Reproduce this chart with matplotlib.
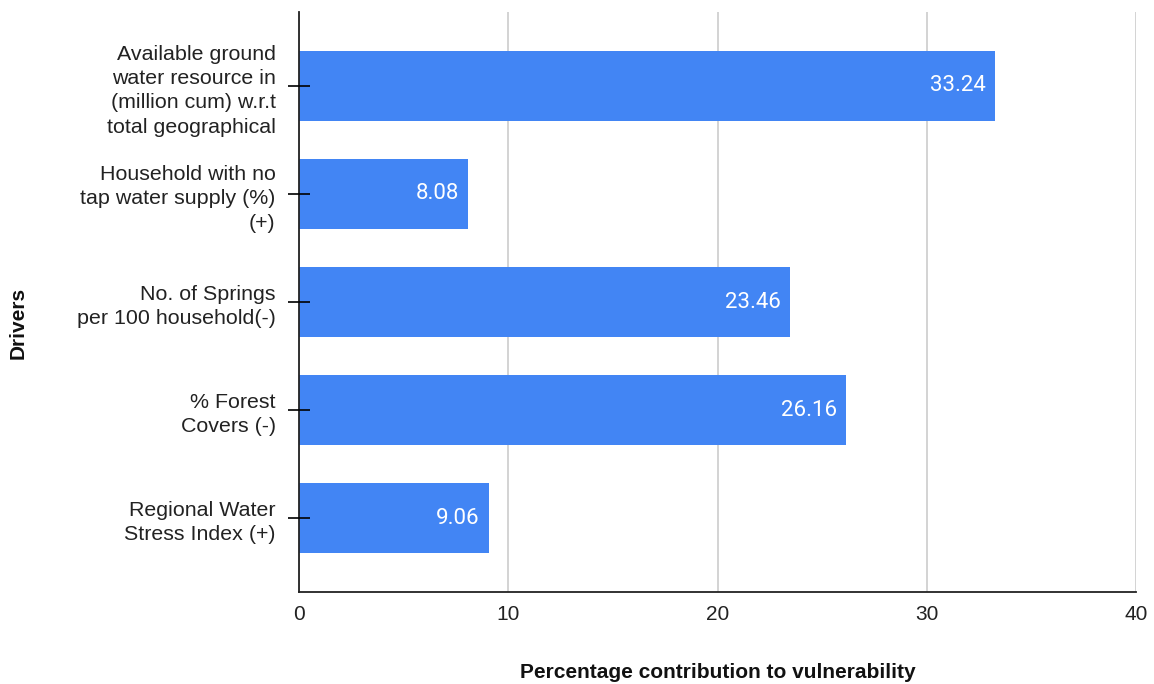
import matplotlib
matplotlib.use("Agg")
import matplotlib.pyplot as plt

categories = [
    "Available ground\nwater resource in\n(million cum) w.r.t\ntotal geographical",
    "Household with no\ntap water supply (%)\n(+)",
    "No. of Springs\nper 100 household(-)",
    "% Forest\nCovers (-)",
    "Regional Water\nStress Index (+)",
]
values = [33.24, 8.08, 23.46, 26.16, 9.06]
value_labels = ["33.24", "8.08", "23.46", "26.16", "9.06"]
xticks = [0, 10, 20, 30, 40]

W, H = 1154, 684
fig = plt.figure(figsize=(W / 100, H / 100), dpi=100)
ax = fig.add_axes([299 / W, 1 - 592 / H, (1136 - 299) / W, (592 - 12) / H])

ypos = list(range(len(categories)))
ax.barh(ypos, values, height=0.648, color="#4285F4", zorder=3)

ax.set_xlim(0, 40)
ax.set_ylim(4.685, -0.685)
ax.set_xticks(xticks)
ax.set_xticklabels([str(t) for t in xticks], fontsize=15, color="#222222",
                   family=["Liberation Sans", "DejaVu Sans"])
ax.set_yticks(ypos)
ax.set_yticklabels(categories, fontsize=15.4, color="#222222",
                   family=["Liberation Sans", "DejaVu Sans"], linespacing=1.36)

ax.tick_params(axis="y", direction="inout", length=15.5, width=1.2, color="black", pad=9)
ax.tick_params(axis="x", length=0, pad=9)

ax.grid(axis="x", color="#cccccc", linewidth=1.2)
ax.grid(axis="y", visible=False)
ax.xaxis.set_zorder(0.5)
ax.yaxis.set_zorder(5)
for s in ["top", "right"]:
    ax.spines[s].set_visible(False)
for s in ["left", "bottom"]:
    ax.spines[s].set_color("#222222")
    ax.spines[s].set_linewidth(1.3)
    ax.spines[s].set_zorder(4)

for y, v, lab in zip(ypos, values, value_labels):
    ax.annotate(lab, xy=(v, y), xytext=(-6.5, 0), textcoords="offset points",
                ha="right", va="center", color="white", fontsize=16,
                family=["Roboto", "DejaVu Sans"], zorder=6)

fig.text(717.5 / W, 1 - 672 / H, "Percentage contribution to vulnerability",
         ha="center", va="center", fontsize=15, fontweight="bold",
         family=["Liberation Sans", "DejaVu Sans"], color="#111111")
fig.text(18 / W, 1 - 323 / H, "Drivers", ha="center", va="center",
         rotation=90, fontsize=15, fontweight="bold",
         family=["Liberation Sans", "DejaVu Sans"], color="#111111")

fig.savefig("out.png", dpi=100, facecolor="white")
